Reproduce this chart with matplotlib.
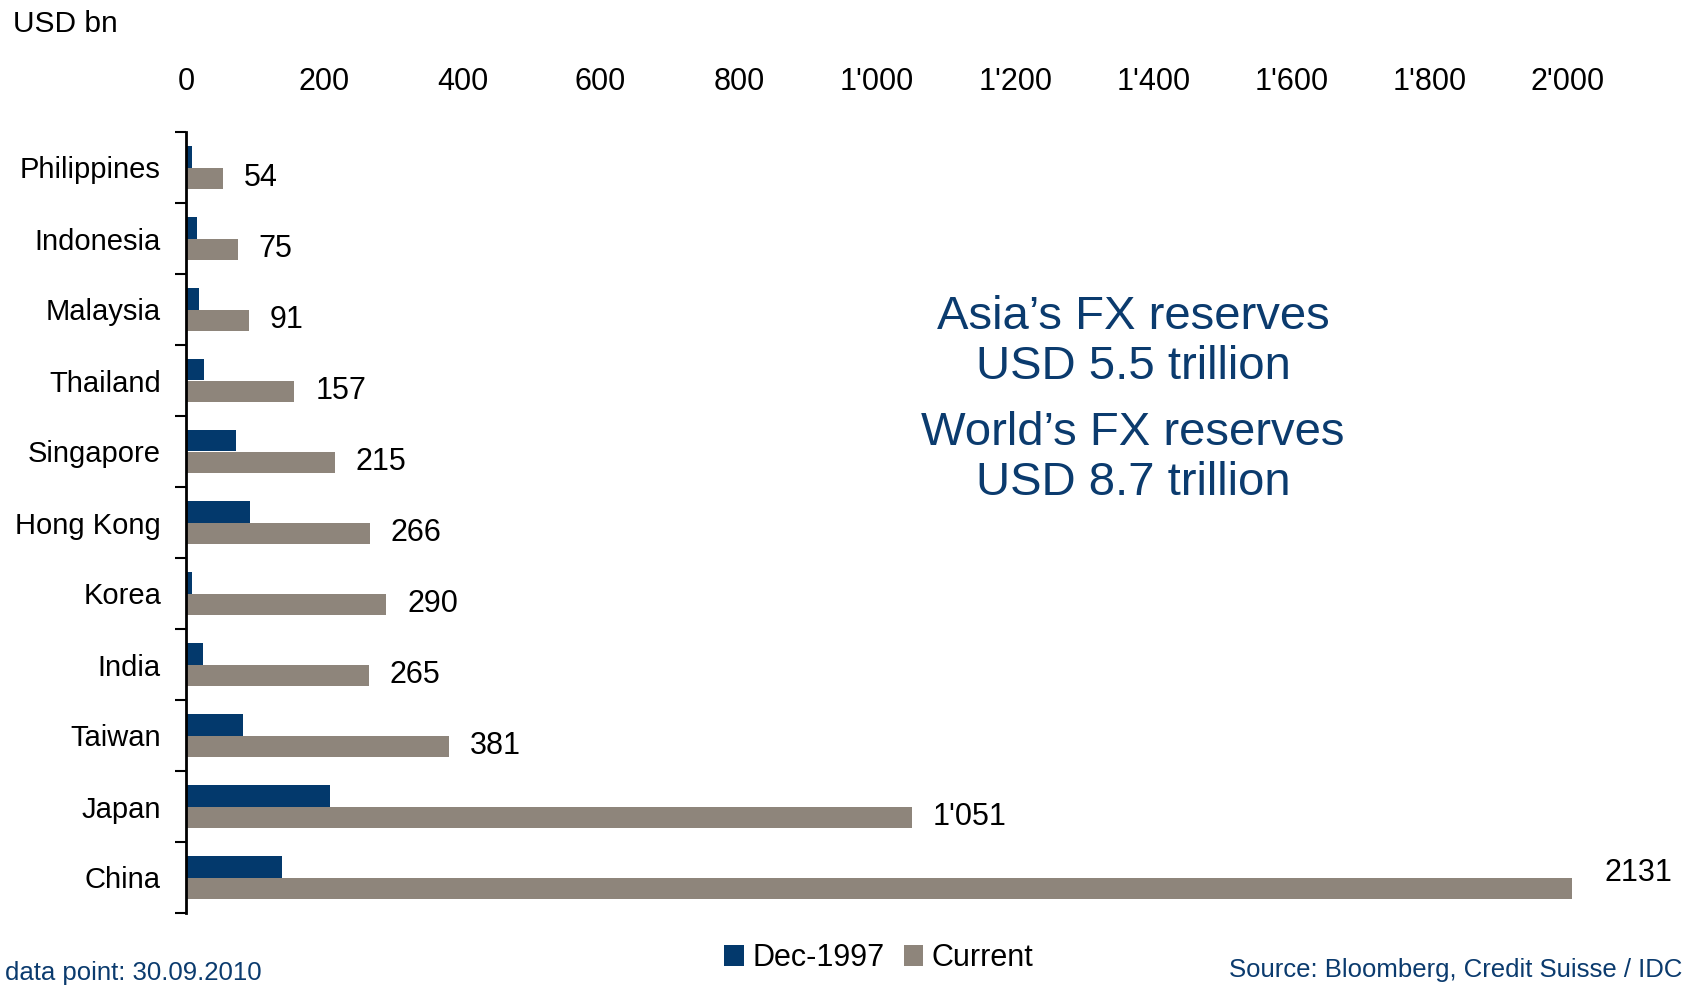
import matplotlib.pyplot as plt
import matplotlib.ticker as mticker
import numpy as np

countries = ["Philippines", "Indonesia", "Malaysia", "Thailand", "Singapore",
             "Hong Kong", "Korea", "India", "Taiwan", "Japan", "China"]
dec_1997 = [9, 16, 19, 26, 72, 93, 9, 24, 83, 209, 139]
current = [54, 75, 91, 157, 215, 266, 290, 265, 381, 1051, 2131]

BLUE = "#03396C"
GREY = "#8E857B"
TEXT_BLUE = "#0B3B6E"

plt.rcParams["font.family"] = ["Liberation Sans", "DejaVu Sans"]


def swiss_thousands(v, pos=None):
    return f"{int(round(v)):,}".replace(",", "'")


fig = plt.figure(figsize=(16.86, 9.85), dpi=100)
ax = fig.add_axes([186 / 1686, 1 - 913 / 985, (1571.5 - 186) / 1686, (913 - 132) / 985])

y = np.arange(len(countries))
h = 0.296
ax.barh(y - h / 2, dec_1997, height=h, color=BLUE, label="Dec-1997")
bars = ax.barh(y + h / 2, current, height=h, color=GREY, label="Current")

ax.set_xlim(0, 2005)
ax.set_ylim(len(countries) - 0.5, -0.5)

# value labels to the right of the grey bars; China runs off the scale
for i, (b, v) in enumerate(zip(bars, current)):
    if i == len(current) - 1:
        ax.annotate(str(v), xy=(1, b.get_y() + b.get_height() / 2),
                    xycoords=("axes fraction", "data"),
                    xytext=(24, 11), textcoords="offset points",
                    ha="left", va="center", fontsize=22, color="black",
                    annotation_clip=False)
    else:
        ax.annotate(swiss_thousands(v), xy=(v, b.get_y() + b.get_height() / 2),
                    xytext=(15, 0), textcoords="offset points",
                    ha="left", va="center", fontsize=22, color="black")

# x axis on top, labels only
ax.xaxis.set_major_locator(mticker.MultipleLocator(200))
ax.xaxis.set_major_formatter(mticker.FuncFormatter(swiss_thousands))
ax.tick_params(axis="x", top=True, bottom=False, labeltop=True, labelbottom=False,
               length=0, pad=25, labelsize=22)

# y axis: labels at category centres, ticks between categories
ax.set_yticks(y)
ax.set_yticklabels(countries, fontsize=21)
ax.set_yticks(np.arange(-0.5, len(countries), 1), minor=True)
ax.tick_params(axis="y", which="major", length=0, pad=18)
ax.tick_params(axis="y", which="minor", length=8, width=1.5, direction="out")

for s in ["top", "right", "bottom"]:
    ax.spines[s].set_visible(False)
ax.spines["left"].set_linewidth(2)

fig.text(13 / 1686, 1 - 32 / 985, "USD bn", fontsize=21.5, va="baseline")

fig.text(1133 / 1686, 1 - 342 / 985, "Asia\u2019s FX reserves\nUSD 5.5 trillion",
         ha="center", va="center", fontsize=34, color=TEXT_BLUE, linespacing=1.17)
fig.text(1133 / 1686, 1 - 458 / 985, "World\u2019s FX reserves\nUSD 8.7 trillion",
         ha="center", va="center", fontsize=34, color=TEXT_BLUE, linespacing=1.17)

ax.legend(loc="center", bbox_to_anchor=(0.5, -0.058), ncol=2, frameon=False,
          fontsize=22, handlelength=0.65, handleheight=0.65, handletextpad=0.26,
          columnspacing=0.63)

fig.text(5 / 1686, 1 - 980 / 985, "data point: 30.09.2010", fontsize=18.5,
         color=TEXT_BLUE, va="baseline")
fig.text(1682 / 1686, 1 - 977 / 985, "Source: Bloomberg, Credit Suisse / IDC",
         fontsize=18.5, color=TEXT_BLUE, va="baseline", ha="right")

fig.savefig("out.png", dpi=100)
